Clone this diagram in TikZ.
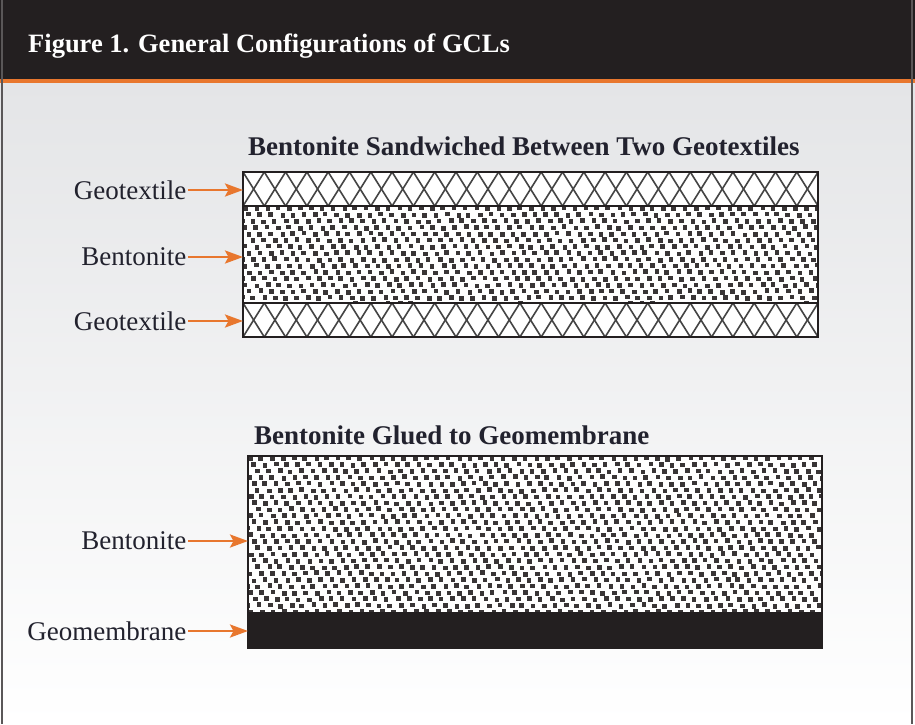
\documentclass[tikz,border=0pt]{standalone}
\usepackage{fontspec}
\setmainfont{Liberation Serif}
\usetikzlibrary{arrows.meta, calc, positioning}
\definecolor{hdrblack}{HTML}{231F20}
\definecolor{gclorange}{HTML}{E8772E}
\definecolor{inkdark}{HTML}{22222E}
\definecolor{panelgray}{HTML}{E4E5E7}
\definecolor{meshgray}{HTML}{444444}

% hatch for the geotextile bands (crossed lines, clipped to the node)
\newcommand{\meshfill}[1]{%
  \begin{scope}
    \clip (#1.north west) rectangle (#1.south east);
    \foreach \k in {-1,...,28}{
      \draw[meshline] ([xshift={\k*21.3pt}]#1.north west) -- ([xshift={\k*21.3pt+21.3pt}]#1.south west);
      \draw[meshline] ([xshift={\k*21.3pt+21.3pt}]#1.north west) -- ([xshift={\k*21.3pt}]#1.south west);
    }
  \end{scope}}
% grains for the bentonite bands
\newcommand{\grainfill}[2]{%
  \begin{scope}
    \clip (#1.north west) rectangle (#1.south east);
    \foreach \r in {-1,...,#2}{
      \foreach \c in {-1,...,53}{
        \fill[grain] ([shift={({\c*11+mod(\r*3.7,11)+0.9*rand},{\r*6.4+0.9*rand})}]#1.north west) rectangle ++(4.6,4.6);
      }
    }
  \end{scope}}

\tikzset{
  lbl/.style={font=\fontsize{27}{30}\selectfont, text=inkdark, inner xsep=1.5pt, inner ysep=0pt, anchor=east},
  subttl/.style={font=\fontsize{27}{30}\selectfont\bfseries, text=inkdark, inner sep=0pt, anchor=base west},
  orarrow/.style={gclorange, line width=2.6pt, -{Stealth[length=18pt,width=13pt,inset=3.5pt]}},
  layer/.style={draw=hdrblack, line width=2pt, fill=white, minimum width=575pt, inner sep=0pt, outer sep=0pt, anchor=north west},
  layerline/.style={draw=hdrblack, line width=2.2pt},
  meshline/.style={meshgray, line width=1.6pt},
  grain/.style={fill=hdrblack!90},
}

\begin{document}
\begin{tikzpicture}[x=1pt, y=-1pt]
    \useasboundingbox (0,0) rectangle (915,724);
    \pgfmathsetseed{42}

    % panel and header
    \shade[top color=panelgray, bottom color=white] (0,83) rectangle (915,724);
    \fill[hdrblack] (0,0) rectangle (915,79);
    \fill[gclorange] (0,79) rectangle (915,83);
    \draw[hdrblack!75, line width=1.5pt] (2,0) -- (2,724);
    \draw[hdrblack!75, line width=1.5pt] (912,0) -- (912,724);
    \node[anchor=base west, inner sep=0pt, text=white, font=\fontsize{26.5}{30}\selectfont\bfseries] (figttl) at (28,52) {Figure 1. General Configurations of GCLs};

    % first configuration
    \node[subttl] (ttlTop) at (248,155) {Bentonite Sandwiched Between Two Geotextiles};
    \node[layer, minimum height=34pt] (geoTop) at (243,172) {};
    \node[layer, minimum height=97pt] (bentTop) at (geoTop.south west) {};
    \node[layer, minimum height=34pt] (geoBot) at (bentTop.south west) {};
    \meshfill{geoTop}
    \meshfill{geoBot}
    \grainfill{bentTop}{15}

    % second configuration
    \node[subttl] (ttlLow) at (254,444) {Bentonite Glued to Geomembrane};
    \node[layer, minimum width=574pt, minimum height=157pt] (bentLow) at (248,456) {};
    \node[layer, minimum width=574pt, minimum height=35pt, fill=hdrblack] (gmb) at (bentLow.south west) {};
    \grainfill{bentLow}{25}

    \foreach \n in {geoTop,bentTop,geoBot,bentLow,gmb}
        \draw[layerline] (\n.north west) rectangle (\n.south east);

    % labels
    \node[lbl] (lGeoTop) at (188,190) {Geotextile};
    \node[lbl] (lBentTop) at (188,257) {Bentonite};
    \node[lbl] (lGeoBot) at (188,321) {Geotextile};
    \node[lbl] (lBentLow) at (188,541) {Bentonite};
    \node[lbl] (lGmb) at (188,631) {Geomembrane};

    \draw[orarrow] (lGeoTop.east) -- (lGeoTop.east -| geoTop.west);
    \draw[orarrow] (lBentTop.east) -- (lBentTop.east -| bentTop.west);
    \draw[orarrow] (lGeoBot.east) -- (lGeoBot.east -| geoBot.west);
    \draw[orarrow] (lBentLow.east) -- (lBentLow.east -| bentLow.west);
    \draw[orarrow] (lGmb.east) -- (lGmb.east -| gmb.west);
\end{tikzpicture}
\end{document}
